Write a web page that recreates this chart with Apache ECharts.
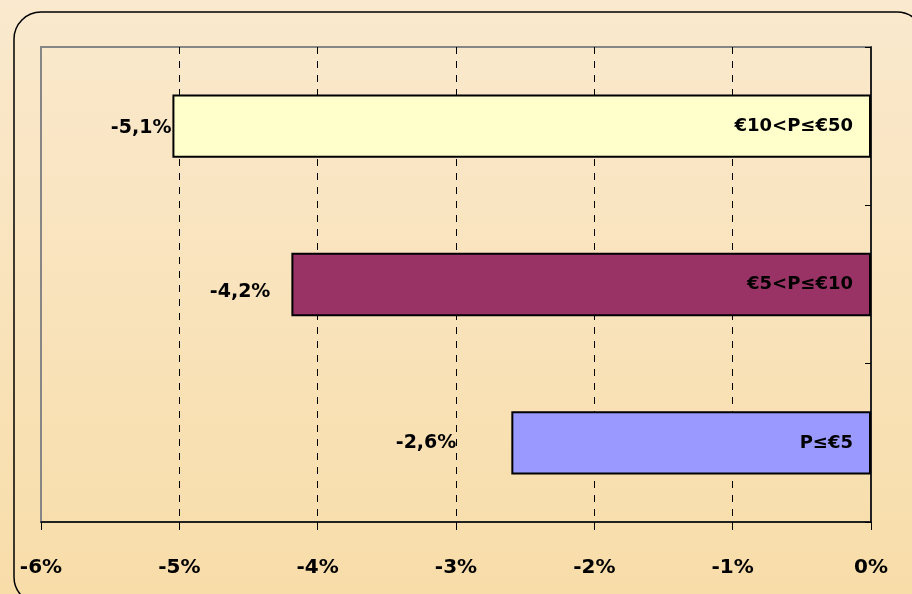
<!DOCTYPE html>
<html>
<head>
<meta charset="utf-8">
<script src="https://cdn.jsdelivr.net/npm/echarts@6/dist/echarts.min.js"></script>
<style>
  html, body { margin: 0; padding: 0; }
  #chart { width: 912px; height: 594px; }
</style>
</head>
<body>
<div id="chart"></div>
<script>
// categories bottom -> top (category axis runs upward)
const categories = ['P≤€5', '€5<P≤€10', '€10<P≤€50']
const values = [-2.6, -4.19, -5.05]
const valueLabels = ['-2,6%', '-4,2%', '-5,1%']
const xTicks = { min: -6, max: 0, interval: 1 }

// styling, kept apart from the data
const barColors = ['#9999FF', '#993366', '#FFFFCC']
const labelGap = [55, 21, 1]     // labels were hand-placed in the original
const labelShiftY = [0, 8, 2]

const chart = echarts.init(document.getElementById('chart'), null, { renderer: 'canvas' })

const FONT = 'DejaVu Sans'

const option = {
  animation: false,
  backgroundColor: {
    type: 'linear', x: 0, y: 0, x2: 0, y2: 1,
    colorStops: [
      { offset: 0, color: '#FAE9CE' },
      { offset: 1, color: '#F8DDA9' },
    ],
  },
  graphic: [
    {
      type: 'rect',
      shape: { x: 14, y: 12, width: 910, height: 592, r: 27 },
      style: { fill: null, stroke: '#000', lineWidth: 1.5 },
      silent: true,
      z: 0,
    },
  ],
  grid: {
    left: 41,
    right: 41,
    top: 47,
    bottom: 72,
    show: true,
    borderColor: '#868686',
    borderWidth: 2,
    backgroundColor: 'transparent',
  },
  xAxis: {
    type: 'value',
    min: xTicks.min,
    max: xTicks.max,
    interval: xTicks.interval,
    axisLine: { show: true, lineStyle: { color: '#000', width: 1.5 } },
    axisTick: { show: true, length: 8, lineStyle: { color: '#000', width: 1 } },
    axisLabel: {
      margin: 36,
      color: '#000',
      fontFamily: FONT,
      fontWeight: 'bold',
      fontSize: 20,
      formatter: (v) => v + '%',
    },
    splitLine: {
      show: true,
      showMinLine: false,
      showMaxLine: false,
      lineStyle: { color: '#000', width: 1, type: [7, 7] },
    },
  },
  yAxis: {
    type: 'category',
    position: 'right',
    data: categories,
    z: 5,
    axisLine: { show: true, onZero: false, lineStyle: { color: '#000', width: 1.5 } },
    axisTick: { show: true, inside: true, length: 6, lineStyle: { color: '#000', width: 1 } },
    axisLabel: {
      inside: true,
      margin: 18,
      color: '#000',
      fontFamily: FONT,
      fontWeight: 'bold',
      fontSize: 18,
    },
    splitLine: { show: false },
  },
  series: [
    {
      type: 'bar',
      barWidth: '40%',
      data: values.map((v, i) => ({
        value: v,
        itemStyle: { color: barColors[i] },
        label: { distance: labelGap[i], offset: [0, labelShiftY[i]] },
      })),
      itemStyle: { borderColor: '#000', borderWidth: 2 },
      label: {
        show: true,
        position: 'left',
        color: '#000',
        fontFamily: FONT,
        fontWeight: 'bold',
        fontSize: 19,
        formatter: (p) => valueLabels[p.dataIndex],
      },
    },
  ],
}

chart.setOption(option)
</script>
</body>
</html>
